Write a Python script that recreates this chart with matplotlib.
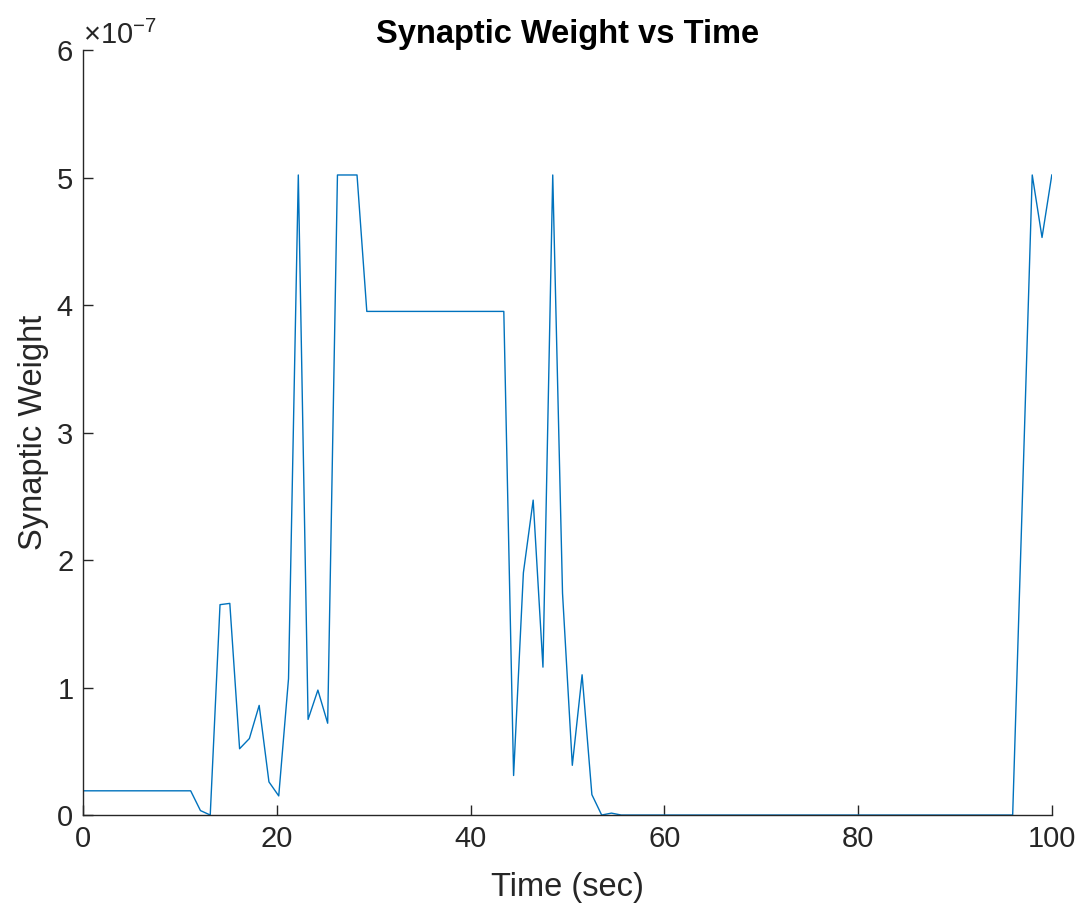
import numpy as np
import matplotlib
matplotlib.use('Agg')
import matplotlib.pyplot as plt
from matplotlib.ticker import ScalarFormatter

# time grid: 100 samples over 0..100 sec
time_sec = np.linspace(0, 100, 100)

# synaptic weight, in units of 1e-7
weight_e7 = (
    [0.19] * 12
    + [0.035, 0.0, 1.65, 1.66, 0.52, 0.60, 0.86, 0.26, 0.15, 1.07,
       5.02, 0.75, 0.98, 0.72, 5.02, 5.02, 5.02]
    + [3.95] * 15
    + [0.31, 1.90, 2.47, 1.16, 5.02, 1.74, 0.39, 1.10, 0.16, 0.0, 0.015]
    + [0.0] * 41
    + [2.5, 5.02, 4.53, 5.02]
)
weight = np.array(weight_e7) * 1e-7

x_ticks = [0, 20, 40, 60, 80, 100]
y_ticks = np.array([0, 1, 2, 3, 4, 5, 6]) * 1e-7

plt.rcParams['font.family'] = ['Liberation Sans', 'DejaVu Sans']
plt.rcParams['axes.unicode_minus'] = False
plt.rcParams['mathtext.fontset'] = 'custom'
plt.rcParams['mathtext.rm'] = 'Liberation Sans'
plt.rcParams['mathtext.it'] = 'Liberation Sans'
plt.rcParams['xtick.direction'] = 'in'
plt.rcParams['ytick.direction'] = 'in'

axis_col = '#262626'

fig = plt.figure(figsize=(10.81, 9.13), dpi=100)
ax = fig.add_axes([0.0768, 0.1073, 0.8962, 0.8379])

ax.plot(time_sec, weight, color='#0072BD', linewidth=1.0)

ax.set_xlim(0, 100)
ax.set_ylim(0, 6e-7)
ax.set_xticks(x_ticks)
ax.set_yticks(y_ticks)

fmt = ScalarFormatter(useMathText=True)
fmt.set_powerlimits((-3, 3))
ax.yaxis.set_major_formatter(fmt)
ax.yaxis.get_offset_text().set_visible(False)
ax.text(0.0, 1.0, r'$\times10^{-7}$', transform=ax.transAxes,
        fontsize=21, color=axis_col, ha='left', va='bottom')

for side in ('top', 'right'):
    ax.spines[side].set_visible(False)
for side in ('left', 'bottom'):
    ax.spines[side].set_color(axis_col)
    ax.spines[side].set_linewidth(1.0)

ax.tick_params(direction='in', length=7, width=1.0, colors=axis_col,
               labelsize=21, pad=7)

ax.set_xlabel('Time (sec)', fontsize=23.5, color=axis_col, labelpad=14)
ax.set_ylabel('Synaptic Weight', fontsize=23.5, color=axis_col, labelpad=5)
ax.set_title('Synaptic Weight vs Time', fontsize=23.5, fontweight='bold',
             color='black', pad=5)

fig.savefig('out.png', dpi=100, facecolor='white')
